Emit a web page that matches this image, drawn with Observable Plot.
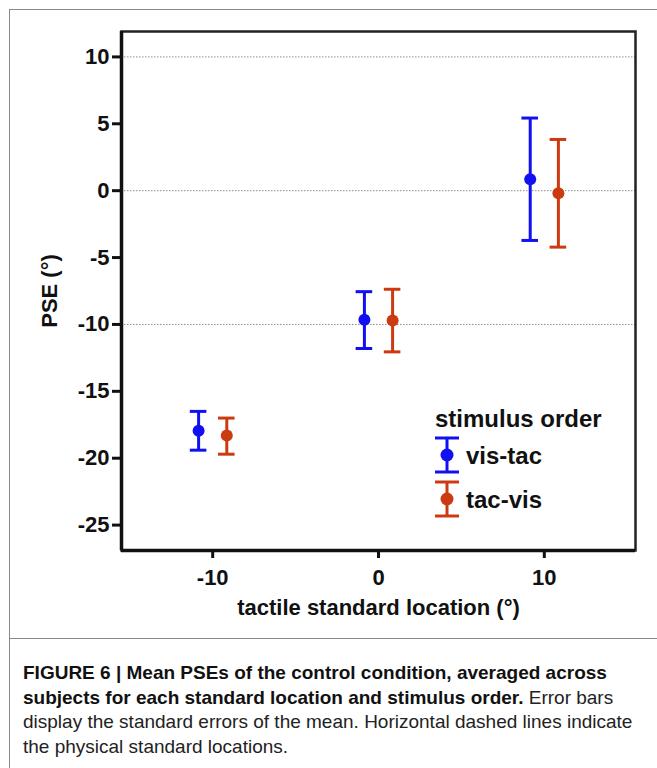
<!DOCTYPE html>
<html>
<head>
<meta charset="utf-8">
<script src="https://cdn.jsdelivr.net/npm/d3@7"></script>
<script src="https://cdn.jsdelivr.net/npm/@observablehq/plot@0.6"></script>
<style>
  html, body { margin: 0; padding: 0; background: #fff; }
  #wrap { position: relative; width: 657px; height: 768px; overflow: hidden; background: #fff; }
  #border { position: absolute; left: 9px; top: 9px; width: 720px; height: 800px; border-left: 1.5px solid #8a8a8a; border-top: 1.5px solid #8a8a8a; }
  #sep { position: absolute; left: 9px; top: 638px; width: 720px; border-top: 1.5px solid #8a8a8a; }
  #chart { position: absolute; left: 0; top: 0; }
  #legend { position: absolute; left: 0; top: 0; pointer-events: none; }
  #caption { position: absolute; left: 23px; top: 661px; font: 19px Arial, "Liberation Sans", sans-serif; line-height: 24.5px; color: #222; white-space: nowrap; }
  #caption b { color: #111; }
</style>
</head>
<body>
<div id="wrap">
  <div id="border"></div>
  <div id="sep"></div>
  <div id="chart"></div>
  <svg id="legend" width="657" height="638"></svg>
  <div id="caption"><b>FIGURE 6 | Mean PSEs of the control condition, averaged across<br>subjects for each standard location and stimulus order.</b> Error bars<br>display the standard errors of the mean. Horizontal dashed lines indicate<br>the physical standard locations.</div>
</div>
<script>
// ---- data ----
const locations = [-10, 0, 10];
const orders = ["vis-tac", "tac-vis"];
const orderColors = ["#1010f0", "#cc3a12"];
const visTacMean = [-17.95, -9.65, 0.85];
const visTacLow  = [-19.4, -11.8, -3.72];
const visTacHigh = [-16.5, -7.55, 5.43];
const tacVisMean = [-18.3, -9.7, -0.2];
const tacVisLow  = [-19.7, -12.05, -4.22];
const tacVisHigh = [-17.0, -7.37, 3.83];
const yTicks = [-25, -20, -15, -10, -5, 0, 5, 10];
const xTicks = [-10, 0, 10];
const gridLines = [-10, 0, 10];
const xDomain = [-15.5, 15.5];
const yDomain = [-26.9, 11.9];

const dodge = 0.85;   // horizontal offset of each stimulus order
const capHalf = 0.5;  // half width of error bar caps

const rows = [];
locations.forEach((loc, i) => {
  rows.push({loc, x: loc - dodge, order: orders[0], mean: visTacMean[i], lo: visTacLow[i], hi: visTacHigh[i]});
  rows.push({loc, x: loc + dodge, order: orders[1], mean: tacVisMean[i], lo: tacVisLow[i], hi: tacVisHigh[i]});
});

const FONT = "Arial, 'Liberation Sans', Helvetica, sans-serif";
const fmt = d => String(d); // plain hyphen-minus, as in the figure

const chart = Plot.plot({
  width: 657,
  height: 638,
  marginLeft: 121,
  marginRight: 22,
  marginTop: 31,
  marginBottom: 88,
  style: {fontFamily: FONT, fontSize: "22px", fontWeight: "bold", color: "#111", background: "transparent"},
  x: {domain: xDomain},
  y: {domain: yDomain},
  color: {domain: orders, range: orderColors},
  marks: [
    Plot.ruleY(gridLines, {stroke: "#8a8a8a", strokeWidth: 1, strokeDasharray: "1.5 1.5"}),
    Plot.frame({stroke: "#222", strokeWidth: 2.5}),
    Plot.axisY({ticks: yTicks, tickFormat: fmt, tickSize: 9, tickPadding: 3, strokeWidth: 3, stroke: "#111",
      label: "PSE (°)", labelAnchor: "center", labelArrow: "none", labelOffset: 80}),
    Plot.axisX({ticks: xTicks, tickFormat: fmt, tickSize: 8, tickPadding: 11, strokeWidth: 3, stroke: "#111",
      label: "tactile standard location (°)", labelAnchor: "center", labelArrow: "none", labelOffset: 64}),
    Plot.ruleX([xDomain[0]], {stroke: "#111", strokeWidth: 3.5}),
    Plot.ruleY([yDomain[0]], {stroke: "#111", strokeWidth: 3.5}),
    Plot.ruleX(rows, {x: "x", y1: "lo", y2: "hi", stroke: "order", strokeWidth: 3}),
    Plot.ruleY(rows, {y: "hi", x1: d => d.x - capHalf, x2: d => d.x + capHalf, stroke: "order", strokeWidth: 3}),
    Plot.ruleY(rows, {y: "lo", x1: d => d.x - capHalf, x2: d => d.x + capHalf, stroke: "order", strokeWidth: 3}),
    Plot.dot(rows, {x: "x", y: "mean", r: 6, fill: "order", stroke: "none"})
  ]
});
document.getElementById("chart").appendChild(chart);

// ---- legend (drawn inside the plot area) ----
const lg = d3.select("#legend");
const lgLeft = 435, lgTitleY = 427, lgRow0 = 455, lgRowStep = 44, symX = 447, capW = 12, barH = 17;
lg.append("text").attr("x", lgLeft).attr("y", lgTitleY)
  .attr("font-family", FONT).attr("font-weight", "bold").attr("font-size", 24).attr("fill", "#111")
  .text("stimulus order");
orders.forEach((o, i) => {
  const cy = lgRow0 + i * lgRowStep;
  const g = lg.append("g").attr("stroke", orderColors[i]).attr("stroke-width", 3);
  g.append("line").attr("x1", symX).attr("x2", symX).attr("y1", cy - barH).attr("y2", cy + barH);
  g.append("line").attr("x1", symX - capW).attr("x2", symX + capW).attr("y1", cy - barH).attr("y2", cy - barH);
  g.append("line").attr("x1", symX - capW).attr("x2", symX + capW).attr("y1", cy + barH).attr("y2", cy + barH);
  lg.append("circle").attr("cx", symX).attr("cy", cy).attr("r", 6.5).attr("fill", orderColors[i]);
  lg.append("text").attr("x", 466).attr("y", cy + 8.5)
    .attr("font-family", FONT).attr("font-weight", "bold").attr("font-size", 24).attr("fill", "#111")
    .text(o);
});
</script>
</body>
</html>
